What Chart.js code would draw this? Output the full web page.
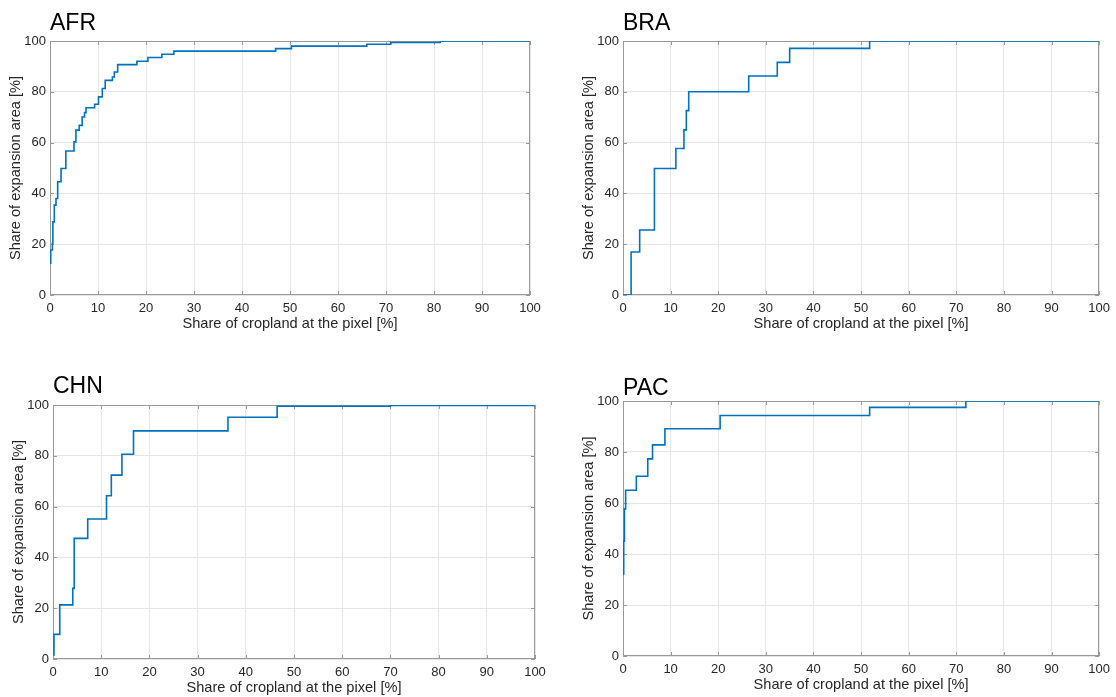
<!DOCTYPE html>
<html>
<head>
<meta charset="utf-8">
<script src="https://cdn.jsdelivr.net/npm/chart.js@4.4.0/dist/chart.umd.min.js"></script>
<style>
    body { margin: 0; background: #fff; }
    #wrap { position: relative; width: 1116px; height: 697px; overflow: hidden; background: #fff; }
    canvas { position: absolute; }
</style>
</head>
<body>
<div id="wrap">
    <canvas id="afr" width="558" height="340" style="left:0px;top:0px"></canvas>
    <canvas id="bra" width="558" height="340" style="left:558px;top:0px"></canvas>
    <canvas id="chn" width="558" height="347" style="left:0px;top:350px"></canvas>
    <canvas id="pac" width="558" height="347" style="left:558px;top:350px"></canvas>
</div>
<script>
// tick values and axis labels
var xTicks = [0, 10, 20, 30, 40, 50, 60, 70, 80, 90, 100];
var yTicks = [0, 20, 40, 60, 80, 100];
var xLabel = 'Share of cropland at the pixel [%]';
var yLabel = 'Share of expansion area [%]';

// cumulative curves (share of cropland, share of expansion area)
var afrX = [0, 0.15, 0.5, 0.6, 0.9, 1.25, 1.6, 2.3, 3.3, 5.0, 5.4, 6.1, 6.7, 7.2, 7.5, 9.3, 10.1, 10.9, 11.5, 13.0, 13.4, 14.1, 18.1, 20.4, 23.3, 25.8, 47.0, 50.3, 66.0, 71.0, 81.3, 100];
var afrY = [12.5, 17.7, 20.3, 28.8, 35.4, 38.0, 44.6, 49.8, 56.7, 60.3, 64.9, 66.8, 70.1, 71.8, 73.7, 75.1, 78.0, 81.3, 84.5, 85.8, 87.8, 90.7, 92.0, 93.5, 94.8, 96.0, 97.0, 98.0, 98.7, 99.4, 100, 100];

var braX = [0, 1.7, 3.5, 6.6, 11.1, 12.8, 13.3, 13.8, 26.4, 32.4, 35.0, 51.8, 100];
var braY = [0, 16.9, 25.6, 49.8, 57.7, 65.0, 72.6, 80.0, 86.2, 91.6, 97.1, 100, 100];

var chnX = [0, 0.2, 1.4, 4.1, 4.4, 7.2, 11.1, 12.1, 14.3, 16.7, 36.3, 46.5, 70.0, 100];
var chnY = [1.6, 9.7, 21.3, 27.8, 47.5, 55.1, 64.3, 72.4, 80.6, 89.8, 95.2, 99.5, 99.8, 100];

var pacX = [0, 0.15, 0.3, 0.55, 2.8, 5.2, 6.2, 8.8, 20.4, 51.8, 72.0, 100];
var pacY = [32.1, 45.0, 57.7, 65.0, 70.5, 77.3, 82.8, 89.1, 94.3, 97.5, 100, 100];

var FONT = '"Liberation Sans", Arial, Helvetica, sans-serif';

// box around the axes, inward tick marks and the panel name
var framePlugin = {
    id: 'frame',
    beforeDatasetsDraw: function (chart) {
        var a = chart.chartArea, ctx = chart.ctx;
        var sx = chart.scales.x, sy = chart.scales.y;
        ctx.save();
        ctx.strokeStyle = '#999999';
        ctx.lineWidth = 1;
        ctx.strokeRect(Math.round(a.left) + 0.5, Math.round(a.top) + 0.5,
            Math.round(a.right - a.left) - 1, Math.round(a.bottom - a.top) - 1);
        ctx.beginPath();
        xTicks.forEach(function (t) {
            var px = Math.round(sx.getPixelForValue(t)) + 0.5;
            ctx.moveTo(px, a.bottom); ctx.lineTo(px, a.bottom - 4);
            ctx.moveTo(px, a.top); ctx.lineTo(px, a.top + 4);
        });
        yTicks.forEach(function (t) {
            var py = Math.round(sy.getPixelForValue(t)) + 0.5;
            ctx.moveTo(a.left, py); ctx.lineTo(a.left + 4, py);
            ctx.moveTo(a.right, py); ctx.lineTo(a.right - 4, py);
        });
        ctx.stroke();
        ctx.restore();
    },
    afterDraw: function (chart) {
        var o = chart.options.plugins.frame;
        var ctx = chart.ctx;
        ctx.save();
        ctx.fillStyle = '#000';
        ctx.font = '23px ' + FONT;
        ctx.textBaseline = 'alphabetic';
        ctx.textAlign = 'left';
        ctx.fillText(o.text, chart.chartArea.left, o.titleY);
        ctx.restore();
    }
};

function makePanel(id, name, xs, ys, pad, titleY) {
    var pts = [];
    for (var i = 0; i < xs.length; i++) {
        pts.push({ x: xs[i], y: ys[i] });
    }
    new Chart(document.getElementById(id), {
        type: 'line',
        data: {
            datasets: [{
                data: pts,
                stepped: 'before',
                borderColor: '#0072BD',
                borderWidth: 1.6,
                pointRadius: 0,
                fill: false
            }]
        },
        options: {
            responsive: false,
            animation: false,
            layout: { padding: pad },
            plugins: {
                legend: { display: false },
                tooltip: { enabled: false },
                frame: { text: name, titleY: titleY }
            },
            scales: {
                x: {
                    type: 'linear',
                    min: 0, max: 100,
                    afterBuildTicks: function (s) { s.ticks = xTicks.map(function (v) { return { value: v }; }); },
                    afterFit: function (s) { s.height = 38; },
                    grid: { color: '#e6e6e6', drawTicks: false },
                    border: { display: false },
                    ticks: { color: '#262626', font: { family: FONT, size: 13 }, padding: 6, maxRotation: 0, autoSkip: false },
                    title: { display: true, text: xLabel, color: '#262626', font: { family: FONT, size: 14.6 }, padding: { top: 0, bottom: 0 } }
                },
                y: {
                    type: 'linear',
                    min: 0, max: 100,
                    afterBuildTicks: function (s) { s.ticks = yTicks.map(function (v) { return { value: v }; }); },
                    afterFit: function (s) { s.width = 50; },
                    grid: { color: '#e6e6e6', drawTicks: false },
                    border: { display: false },
                    ticks: { color: '#262626', font: { family: FONT, size: 13 }, padding: 4 },
                    title: { display: true, text: yLabel, color: '#262626', font: { family: FONT, size: 14.6 }, padding: { top: 7, bottom: 0 } }
                }
            }
        },
        plugins: [framePlugin]
    });
}

makePanel('afr', 'AFR', afrX, afrY, { left: 0, right: 28, top: 41, bottom: 7 }, 30);
makePanel('bra', 'BRA', braX, braY, { left: 15, right: 14, top: 41, bottom: 7 }, 30);
makePanel('chn', 'CHN', chnX, chnY, { left: 3, right: 23, top: 55, bottom: 0 }, 43);
makePanel('pac', 'PAC', pacX, pacY, { left: 15, right: 14, top: 51, bottom: 3 }, 45);
</script>
</body>
</html>
